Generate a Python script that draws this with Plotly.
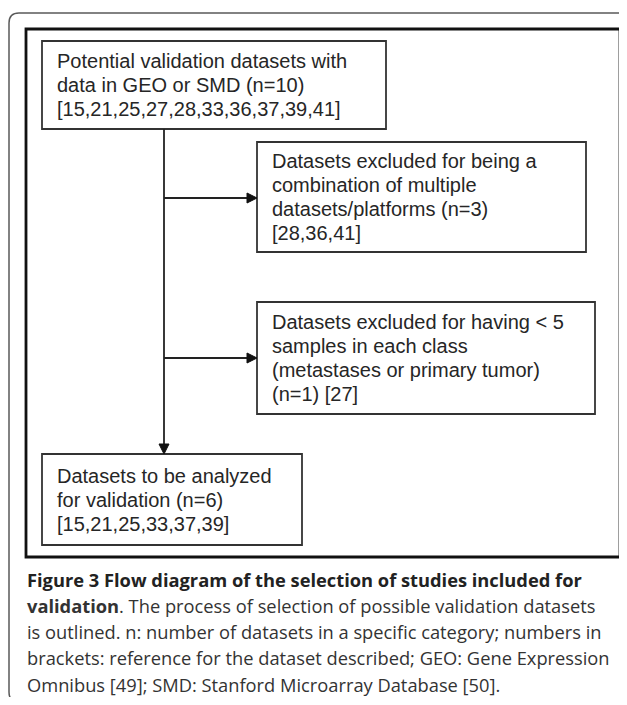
import plotly.graph_objects as go

# page has an 8px body margin; figure drawn in page-pixel coordinates
OFF = 8
W, H = 627 - 2 * OFF, 705 - 2 * OFF

# ---- content ----
box1_lines = ["Potential validation datasets with", "data in GEO or SMD (n=10)",
              "[15,21,25,27,28,33,36,37,39,41]"]
box2_lines = ["Datasets excluded for being a", "combination of multiple",
              "datasets/platforms (n=3)", "[28,36,41]"]
box3_lines = ["Datasets excluded for having < 5", "samples in each class",
              "(metastases or primary tumor)", "(n=1) [27]"]
box4_lines = ["Datasets to be analyzed", "for validation (n=6)", "[15,21,25,33,37,39]"]
caption_lines = [
    "<b>Figure 3 Flow diagram of the selection of studies included for</b>",
    "<b>validation</b>. The process of selection of possible validation datasets",
    "is outlined. n: number of datasets in a specific category; numbers in",
    "brackets: reference for the dataset described; GEO: Gene Expression",
    "Omnibus [49]; SMD: Stanford Microarray Database [50].",
]

# ---- layout geometry (page pixels, y downward) ----
boxes = [
    dict(x0=42, y0=41, x1=386, y1=129, lines=box1_lines),
    dict(x0=257, y0=142, x1=586, y1=252, lines=box2_lines),
    dict(x0=257, y0=302, x1=595, y1=414, lines=box3_lines),
    dict(x0=42, y0=454, x1=302, y1=545, lines=box4_lines),
]
spine_x = 164
LINE_H = 24
BOX_FONT = dict(family="Liberation Sans, Arial, sans-serif", size=20, color="#262626")

fig = go.Figure()
shapes = []
annotations = []

# outer rounded frame
r = 10
L, T, R, B = 9, 13, 645, 702
shapes.append(dict(type="path",
                   path=f"M {L},{T+r} Q {L},{T} {L+r},{T} L {R},{T} L {R},{B} L {L+r},{B} Q {L},{B} {L},{B-r} Z",
                   line=dict(color="#5a5a5a", width=1.5), fillcolor="rgba(0,0,0,0)"))
# inner frame
shapes.append(dict(type="rect", x0=26, y0=29, x1=620, y1=557,
                   line=dict(color="#111111", width=2.8)))

for b in boxes:
    shapes.append(dict(type="rect", x0=b["x0"], y0=b["y0"], x1=b["x1"], y1=b["y1"],
                       line=dict(color="#333333", width=1.8)))
    n = len(b["lines"])
    cy = (b["y0"] + b["y1"]) / 2
    for i, t in enumerate(b["lines"]):
        y = cy + (i - (n - 1) / 2) * LINE_H
        annotations.append(dict(x=b["x0"] + 13, y=y, text=t, showarrow=False,
                                xanchor="left", yanchor="middle", font=BOX_FONT,
                                xref="x", yref="y"))

# connectors
LC = dict(color="#222222", width=1.8)
ah, aw = 10, 5
b1, b2, b3, b4 = boxes
shapes.append(dict(type="line", x0=spine_x, y0=b1["y1"], x1=spine_x, y1=b4["y0"] - ah, line=LC))
shapes.append(dict(type="path",
                   path=f"M {spine_x-aw},{b4['y0']-ah} L {spine_x+aw},{b4['y0']-ah} L {spine_x},{b4['y0']} Z",
                   fillcolor="#111111", line=dict(color="#111111", width=1)))
for bx, ay in [(b2, 198), (b3, 358)]:
    shapes.append(dict(type="line", x0=spine_x, y0=ay, x1=bx["x0"] - ah, y1=ay, line=LC))
    shapes.append(dict(type="path",
                       path=f"M {bx['x0']-ah},{ay-aw} L {bx['x0']-ah},{ay+aw} L {bx['x0']},{ay} Z",
                       fillcolor="#111111", line=dict(color="#111111", width=1)))

# caption
cap_y0, cap_dy = 579, 26.3
for i, t in enumerate(caption_lines):
    annotations.append(dict(x=25, y=cap_y0 + i * cap_dy, text=t, showarrow=False,
                            xanchor="left", yanchor="middle",
                            font=dict(family="Open Sans, sans-serif", size=18.3,
                                      color="#222222" if i == 0 else "#333333"),
                            xref="x", yref="y"))

fig.update_layout(
    width=W, height=H, margin=dict(l=0, r=0, t=0, b=0),
    paper_bgcolor="white", plot_bgcolor="white",
    xaxis=dict(range=[OFF, OFF + W], visible=False, fixedrange=True),
    yaxis=dict(range=[OFF + H, OFF], visible=False, fixedrange=True),
    shapes=shapes, annotations=annotations, showlegend=False,
)
fig.write_html("out.html")
